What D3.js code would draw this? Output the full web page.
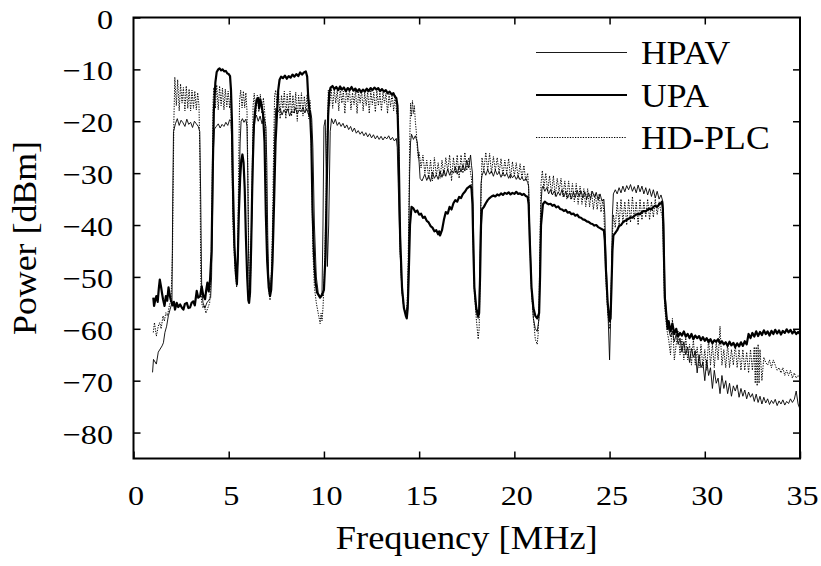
<!DOCTYPE html>
<html><head><meta charset="utf-8">
<script src="https://cdn.jsdelivr.net/npm/d3@7"></script>
<style>
body{margin:0;background:#fff}
svg{display:block}
</style>
</head><body>
<svg id="chart" width="821" height="566"></svg>
<script>
const xTicks=[0,5,10,15,20,25,30,35];
const yTicks=[0,-10,-20,-30,-40,-50,-60,-70,-80];
const xTitle="Frequency [MHz]";
const yTitle="Power [dBm]";
const seriesNames=["HPAV","UPA","HD-PLC"];

const hpav=[[1.0,-68.4],[1.05,-65.9],[1.2,-66.8],[1.3,-64.5],[1.4,-63.9],[1.5,-63.3],[1.57,-62.7],[1.65,-60.7],[1.74,-59.5],[1.83,-57.5],[1.92,-56.3],[2.02,-55],[2.06,-35],[2.1,-22],[2.2,-20.5],[2.3,-19.5],[2.4,-20.8],[2.5,-19.8],[2.6,-20.3],[2.7,-21],[2.8,-19.6],[2.9,-20.6],[3.0,-20.2],[3.1,-21.2],[3.2,-20],[3.3,-20.5],[3.4,-21],[3.48,-22],[3.53,-35],[3.58,-52],[3.65,-55],[3.75,-56],[3.85,-55],[3.95,-54.5],[4.05,-54],[4.1,-50],[4.15,-38],[4.19,-26],[4.25,-21.5],[4.35,-21],[4.45,-20.5],[4.55,-21.3],[4.65,-20.6],[4.75,-21],[4.85,-20.2],[4.95,-20.8],[5.05,-19.7],[5.12,-20],[5.17,-25],[5.23,-38],[5.33,-47],[5.43,-50],[5.48,-47],[5.53,-36],[5.6,-24],[5.65,-20],[5.72,-19.5],[5.8,-20.2],[5.9,-19.6],[5.96,-21],[6.0,-30],[6.04,-45],[6.08,-52],[6.14,-50],[6.22,-38],[6.3,-23],[6.38,-19.5],[6.45,-18.8],[6.55,-20],[6.65,-19],[6.75,-20.5],[6.85,-19.2],[6.95,-21],[7.0,-28],[7.05,-42],[7.1,-50],[7.18,-52.5],[7.28,-48],[7.35,-35],[7.42,-22],[7.47,-17.5],[7.6,-18.2],[7.7,-17.5],[7.8,-18.8],[7.9,-17.8],[8.0,-18.5],[8.1,-17.6],[8.2,-19],[8.3,-18],[8.4,-18.4],[8.5,-17.4],[8.6,-18.6],[8.7,-17.8],[8.8,-18.2],[8.9,-17.3],[9.0,-18.4],[9.1,-17.6],[9.2,-18.8],[9.3,-18],[9.36,-19.5],[9.42,-25],[9.5,-40],[9.6,-50],[9.7,-53],[9.8,-54],[9.9,-53],[9.95,-40],[10.0,-21],[10.07,-19.7],[10.12,-30],[10.18,-48],[10.25,-40],[10.33,-22],[10.4,-19.5],[10.5,-20.5],[10.6,-19.6],[10.7,-20.8],[10.8,-20.2],[10.9,-21],[11.0,-20.4],[11.1,-21.3],[11.2,-20.7],[11.3,-21.6],[11.4,-21],[11.5,-22],[11.6,-21.3],[11.7,-22.3],[11.8,-21.8],[11.9,-22.5],[12.0,-22],[12.1,-22.8],[12.2,-22.2],[12.3,-23],[12.4,-22.4],[12.5,-23.2],[12.6,-22.6],[12.7,-23.4],[12.8,-22.8],[12.9,-23.5],[13.0,-22.9],[13.1,-23.6],[13.2,-23],[13.3,-23.4],[13.4,-22.8],[13.5,-23.6],[13.6,-23.1],[13.7,-23.8],[13.8,-23.3],[13.85,-25],[13.9,-32],[14.0,-45],[14.1,-53],[14.2,-56],[14.3,-57],[14.4,-55],[14.45,-45],[14.5,-30],[14.55,-24],[14.6,-22.5],[14.7,-23.5],[14.8,-22.8],[14.9,-24],[15.0,-28],[15.05,-31],[15.15,-31.5],[15.3,-30.2],[15.4,-31.4],[15.5,-30.5],[15.6,-31.6],[15.7,-29.8],[15.8,-31],[15.9,-30.3],[16.0,-31.2],[16.1,-29.6],[16.2,-30.8],[16.3,-29.4],[16.4,-30.6],[16.5,-29.2],[16.6,-30.4],[16.7,-29.5],[16.8,-30],[16.9,-28.8],[17.0,-30.2],[17.1,-28.6],[17.2,-29.8],[17.3,-28.4],[17.4,-29.6],[17.5,-27.5],[17.6,-29],[17.7,-26.5],[17.75,-28.5],[17.8,-30],[17.85,-40],[17.9,-52],[18.0,-57],[18.1,-58],[18.15,-56],[18.2,-45],[18.25,-32],[18.3,-30.5],[18.4,-29.5],[18.5,-30.4],[18.6,-29.3],[18.7,-30.2],[18.8,-29.6],[18.9,-30.6],[19.0,-29.4],[19.1,-30.3],[19.2,-29.8],[19.3,-30.8],[19.4,-29.9],[19.5,-30.6],[19.6,-30],[19.7,-31],[19.8,-30.2],[19.9,-30.9],[20.0,-30.4],[20.1,-31.2],[20.2,-30.5],[20.3,-31.3],[20.4,-30.8],[20.5,-31.5],[20.6,-31],[20.7,-31.8],[20.75,-32.5],[20.8,-40],[20.9,-52],[21.0,-58],[21.1,-60],[21.2,-60.5],[21.3,-58],[21.35,-48],[21.4,-36],[21.45,-33],[21.5,-32.5],[21.6,-33.5],[21.7,-32.8],[21.8,-34],[21.9,-33.2],[22.0,-34.2],[22.1,-33.4],[22.2,-34.5],[22.3,-33.6],[22.4,-34.3],[22.5,-33.2],[22.6,-34.6],[22.7,-33.5],[22.8,-34.8],[22.9,-33.8],[23.0,-35],[23.1,-33.6],[23.2,-34.7],[23.3,-33.3],[23.4,-34.5],[23.5,-33.4],[23.6,-34.8],[23.7,-33.6],[23.8,-35],[23.9,-33.8],[24.0,-34.9],[24.1,-33.5],[24.2,-34.6],[24.3,-33.7],[24.4,-35.2],[24.5,-34],[24.6,-35.4],[24.7,-35],[24.75,-38],[24.8,-45],[24.9,-55],[25.0,-66],[25.05,-59],[25.1,-50],[25.15,-38],[25.2,-34],[25.3,-33.2],[25.4,-34],[25.5,-32.8],[25.6,-33.8],[25.7,-32.5],[25.8,-33.6],[25.9,-32.4],[26.0,-33.2],[26.1,-32.2],[26.2,-33.5],[26.3,-32.6],[26.4,-33.8],[26.5,-32.3],[26.6,-33.6],[26.7,-32.5],[26.8,-34],[26.9,-32.8],[27.0,-34.2],[27.1,-33],[27.2,-34.5],[27.3,-33.2],[27.4,-34.8],[27.5,-33.5],[27.6,-35],[27.7,-34.2],[27.8,-35.5],[27.85,-40],[27.9,-52],[28.0,-58],[28.1,-60],[28.2,-61.5],[28.3,-60.5],[28.4,-62.5],[28.5,-61],[28.6,-63],[28.7,-61.8],[28.8,-64.5],[28.9,-62.5],[29.0,-65],[29.1,-63.5],[29.2,-66.5],[29.3,-63.8],[29.4,-65.5],[29.5,-64.2],[29.6,-68.5],[29.7,-65],[29.8,-67.5],[29.9,-66.5],[30.0,-70],[30.1,-66],[30.2,-69],[30.3,-67.5],[30.4,-71.5],[30.5,-68],[30.6,-70.5],[30.7,-69.5],[30.8,-72.5],[30.9,-69],[31.0,-71.5],[31.1,-70],[31.2,-72.5],[31.3,-70.5],[31.4,-73],[31.5,-71],[31.6,-72],[31.7,-70.8],[31.8,-73.2],[31.9,-71.5],[32.0,-73],[32.1,-71.8],[32.2,-73.5],[32.3,-72.2],[32.4,-73.2],[32.5,-72.5],[32.6,-74],[32.7,-72.6],[32.8,-74.2],[32.9,-73],[33.0,-74.5],[33.1,-73.2],[33.2,-74.3],[33.3,-73.5],[33.4,-74.6],[33.5,-73.8],[33.6,-74.4],[33.7,-73.6],[33.8,-74.8],[33.9,-73.9],[34.0,-74.5],[34.1,-73.7],[34.2,-74.7],[34.3,-74],[34.4,-74.4],[34.5,-73.5],[34.6,-74.2],[34.7,-73.6],[34.8,-72],[34.9,-74.5],[35.0,-75.5]];

const upa=[[1.04,-54],[1.08,-55.6],[1.14,-54.5],[1.2,-53.7],[1.27,-54.8],[1.33,-52.2],[1.38,-50.5],[1.45,-52],[1.5,-53.2],[1.55,-54.3],[1.63,-55.6],[1.7,-53.7],[1.77,-54.6],[1.84,-52],[1.9,-53.5],[1.95,-54.3],[2.05,-55.5],[2.12,-54.8],[2.18,-56.3],[2.27,-55],[2.35,-55.8],[2.45,-55.3],[2.55,-56],[2.62,-56.3],[2.7,-55.2],[2.8,-55],[2.88,-56],[2.97,-55.9],[3.05,-55],[3.14,-54.7],[3.22,-55.5],[3.32,-52.7],[3.4,-54],[3.5,-53.7],[3.58,-51.8],[3.66,-53.5],[3.76,-54.3],[3.82,-52.5],[3.88,-51.1],[3.95,-52.8],[4.02,-50.5],[4.1,-45],[4.16,-30],[4.22,-18],[4.3,-12.5],[4.37,-10.5],[4.45,-10],[4.52,-9.8],[4.6,-10.2],[4.68,-10],[4.76,-10.4],[4.85,-10.3],[4.93,-10.8],[5.0,-10.9],[5.07,-11.3],[5.12,-14],[5.17,-20],[5.22,-32],[5.3,-44],[5.38,-49.5],[5.43,-51.4],[5.48,-46],[5.53,-38],[5.6,-31],[5.66,-27.5],[5.72,-26.4],[5.78,-28],[5.84,-33],[5.9,-42],[5.97,-50],[6.03,-54.5],[6.07,-55],[6.12,-53],[6.18,-44],[6.25,-30],[6.32,-21],[6.4,-17.5],[6.47,-15.8],[6.55,-15.5],[6.6,-17.5],[6.66,-15.8],[6.72,-16.8],[6.8,-18.5],[6.88,-24],[6.95,-38],[7.02,-47],[7.1,-52],[7.17,-53.7],[7.23,-52.5],[7.3,-47],[7.38,-36],[7.46,-24],[7.52,-19.7],[7.6,-14],[7.67,-12],[7.75,-11.4],[7.85,-11.7],[7.95,-11.2],[8.05,-11.8],[8.15,-11.3],[8.25,-11.6],[8.35,-11],[8.45,-11.4],[8.55,-10.9],[8.65,-11.3],[8.75,-10.6],[8.85,-11],[8.95,-10.6],[9.05,-10.4],[9.12,-11.4],[9.17,-15],[9.22,-17.2],[9.28,-19.1],[9.34,-24],[9.4,-37],[9.48,-46],[9.56,-51],[9.64,-53],[9.72,-53.5],[9.8,-54],[9.9,-53.5],[10.0,-52.5],[10.08,-46],[10.15,-32],[10.22,-19],[10.28,-14.5],[10.35,-13.5],[10.45,-13.2],[10.55,-13.8],[10.65,-13.4],[10.75,-14],[10.85,-13.3],[10.95,-13.9],[11.05,-13.5],[11.15,-14.2],[11.25,-13.6],[11.35,-14],[11.45,-13.4],[11.55,-14.1],[11.65,-13.7],[11.75,-14.3],[11.85,-13.8],[11.95,-14.4],[12.05,-13.9],[12.15,-14.3],[12.25,-13.7],[12.35,-14.2],[12.45,-13.6],[12.55,-14],[12.65,-13.5],[12.75,-13.9],[12.85,-13.6],[12.95,-14.2],[13.05,-13.8],[13.15,-14.3],[13.25,-14],[13.35,-14.6],[13.45,-14.3],[13.55,-14.8],[13.65,-14.6],[13.72,-15.2],[13.8,-15.5],[13.86,-17],[13.92,-25],[14.0,-42],[14.1,-52],[14.2,-56],[14.3,-57.5],[14.35,-58],[14.4,-56],[14.45,-50],[14.52,-40],[14.6,-36.5],[14.7,-36.8],[14.8,-37.5],[14.9,-37.2],[15.0,-38],[15.1,-37.8],[15.2,-38.6],[15.3,-38.4],[15.4,-39.2],[15.5,-39.5],[15.6,-40.2],[15.7,-40.5],[15.8,-41.2],[15.9,-41],[16.0,-41.8],[16.05,-41.2],[16.1,-42],[16.2,-41],[16.3,-39],[16.4,-37.5],[16.5,-37.8],[16.6,-36.5],[16.7,-37],[16.8,-35.8],[16.9,-35.2],[17.0,-35.5],[17.1,-34.6],[17.2,-34.8],[17.3,-34],[17.4,-33.6],[17.5,-33],[17.6,-32.7],[17.7,-32.4],[17.75,-33],[17.8,-36],[17.85,-45],[17.9,-52],[18.0,-56],[18.1,-57.5],[18.15,-57],[18.2,-50],[18.25,-40],[18.3,-37],[18.4,-36.5],[18.5,-35.8],[18.6,-35.2],[18.7,-34.8],[18.8,-34.5],[18.9,-34.3],[19.0,-34.5],[19.1,-34.1],[19.2,-34.3],[19.3,-33.9],[19.4,-34.2],[19.5,-33.8],[19.6,-34],[19.7,-33.7],[19.8,-34.1],[19.9,-33.8],[20.0,-34],[20.1,-33.6],[20.2,-34],[20.3,-33.9],[20.4,-34.2],[20.5,-34],[20.6,-34.4],[20.7,-34.6],[20.75,-36],[20.8,-42],[20.9,-52],[21.0,-56],[21.1,-57.5],[21.2,-58],[21.3,-57],[21.35,-50],[21.4,-40],[21.5,-36],[21.6,-35.5],[21.7,-35.8],[21.8,-36],[21.9,-35.9],[22.0,-36.3],[22.1,-36.1],[22.2,-36.6],[22.3,-36.4],[22.4,-36.9],[22.5,-37],[22.6,-37.3],[22.7,-37.1],[22.8,-37.6],[22.9,-37.5],[23.0,-37.9],[23.1,-37.8],[23.2,-38.2],[23.3,-38],[23.4,-38.5],[23.5,-38.6],[23.6,-38.9],[23.7,-39],[23.8,-39.3],[23.9,-39.4],[24.0,-39.7],[24.1,-39.8],[24.2,-40.1],[24.3,-40],[24.4,-40.4],[24.5,-40.6],[24.6,-40.8],[24.7,-41],[24.75,-43],[24.8,-48],[24.9,-55],[25.0,-58.5],[25.05,-58],[25.1,-52],[25.15,-45],[25.2,-42],[25.3,-41.5],[25.4,-41],[25.5,-40.2],[25.6,-40],[25.7,-39.5],[25.8,-39.2],[25.9,-39],[26.0,-38.8],[26.1,-38.5],[26.2,-38.6],[26.3,-38.2],[26.4,-38],[26.5,-37.8],[26.6,-37.9],[26.7,-37.5],[26.8,-37.3],[26.9,-37.4],[27.0,-37],[27.1,-36.8],[27.2,-37],[27.3,-36.5],[27.4,-36.3],[27.5,-36.5],[27.6,-36],[27.7,-35.8],[27.75,-35.5],[27.8,-37],[27.85,-45],[27.9,-54],[28.0,-58],[28.05,-60],[28.1,-58.5],[28.2,-60.5],[28.3,-59],[28.4,-61],[28.5,-60],[28.6,-61.5],[28.7,-60.8],[28.8,-61.3],[28.9,-60.5],[29.0,-61.5],[29.1,-61],[29.2,-61.8],[29.3,-61],[29.4,-62],[29.5,-61.3],[29.6,-61.8],[29.7,-61.4],[29.8,-62.2],[29.9,-61.6],[30.0,-62.3],[30.1,-61.8],[30.2,-62.6],[30.3,-62],[30.4,-62.8],[30.5,-62.2],[30.6,-62.5],[30.7,-62],[30.8,-62.8],[30.9,-62.4],[31.0,-63],[31.1,-62.6],[31.2,-63.3],[31.3,-62.5],[31.4,-63.2],[31.5,-62.7],[31.6,-63.5],[31.7,-62.8],[31.8,-63.4],[31.9,-62.6],[32.0,-63.3],[32.1,-62.4],[32.2,-63],[32.3,-61],[32.4,-61.8],[32.5,-60.8],[32.6,-61.5],[32.7,-60.5],[32.8,-61.4],[32.9,-60.6],[33.0,-61.2],[33.1,-60.3],[33.2,-61],[33.3,-60.5],[33.4,-61.3],[33.5,-60.4],[33.6,-61],[33.7,-60.2],[33.8,-60.9],[33.9,-60.3],[34.0,-61.1],[34.1,-60.4],[34.2,-60.8],[34.3,-60.1],[34.4,-60.7],[34.5,-60.2],[34.6,-60.9],[34.7,-60.4],[34.8,-61],[34.9,-60.6],[35.0,-61]];

const hdplc=[[1.04,-60.7],[1.1,-58.8],[1.2,-61.4],[1.3,-59.5],[1.38,-58.8],[1.45,-60],[1.55,-57.5],[1.62,-58.5],[1.7,-56.9],[1.78,-57.5],[1.88,-55.6],[1.97,-54.3],[2.05,-45],[2.12,-20],[2.17,-11.5],[2.25,-17],[2.32,-12],[2.4,-18],[2.47,-12.8],[2.55,-16.5],[2.62,-13.5],[2.7,-18],[2.77,-13.2],[2.85,-17.5],[2.92,-13.8],[3.0,-18],[3.07,-14],[3.15,-17.5],[3.22,-14.2],[3.3,-17.8],[3.37,-14.5],[3.44,-17],[3.49,-28],[3.53,-50],[3.58,-55],[3.65,-56],[3.72,-55.5],[3.8,-57],[3.9,-56],[4.0,-55],[4.08,-48],[4.14,-30],[4.18,-16],[4.22,-13.5],[4.3,-17.5],[4.37,-13],[4.45,-17.8],[4.52,-13.2],[4.6,-17],[4.67,-13.6],[4.75,-17.8],[4.82,-13.8],[4.9,-17.2],[4.97,-14.2],[5.05,-17.5],[5.1,-14.8],[5.16,-25],[5.22,-40],[5.32,-48],[5.42,-52],[5.47,-46],[5.52,-30],[5.57,-16],[5.63,-14],[5.7,-17.4],[5.77,-14.2],[5.84,-17.4],[5.9,-14.5],[5.96,-18],[6.0,-28],[6.05,-45],[6.1,-54],[6.15,-50],[6.22,-35],[6.28,-17],[6.34,-14.6],[6.42,-18.5],[6.5,-15],[6.58,-18.2],[6.66,-14.8],[6.74,-18.5],[6.82,-15.5],[6.9,-18.7],[6.95,-22],[7.0,-38],[7.07,-50],[7.12,-53],[7.17,-54.5],[7.22,-52],[7.3,-40],[7.36,-25],[7.41,-15],[7.47,-14],[7.55,-18],[7.62,-14.5],[7.7,-19.5],[7.77,-15],[7.85,-17.5],[7.92,-14.2],[8.0,-19.5],[8.07,-14.8],[8.15,-18],[8.22,-14.2],[8.3,-19],[8.37,-15],[8.45,-18.5],[8.52,-14.4],[8.6,-20],[8.67,-15],[8.75,-18],[8.82,-14.5],[8.9,-19],[8.97,-15.2],[9.05,-18],[9.12,-14.8],[9.2,-19.5],[9.27,-16],[9.32,-20.5],[9.36,-30],[9.42,-45],[9.5,-52],[9.6,-55],[9.7,-57],[9.8,-59],[9.85,-57],[9.9,-58.5],[9.95,-56],[10.02,-50],[10.1,-38],[10.18,-22],[10.23,-14],[10.3,-17],[10.38,-13.5],[10.46,-17.5],[10.54,-13.8],[10.62,-16.5],[10.7,-14],[10.78,-18],[10.86,-13.6],[10.94,-16.5],[11.02,-14.2],[11.1,-18.5],[11.18,-14],[11.26,-16.2],[11.34,-13.8],[11.42,-17.8],[11.5,-14.5],[11.58,-16.8],[11.66,-14],[11.74,-18.5],[11.82,-14.4],[11.9,-16.5],[11.98,-14],[12.06,-18],[12.14,-14.5],[12.22,-17],[12.3,-14.2],[12.38,-18.5],[12.46,-14],[12.54,-16.8],[12.62,-14.4],[12.7,-18.2],[12.78,-14.1],[12.86,-17],[12.94,-14.5],[13.02,-18],[13.1,-14.4],[13.18,-16.5],[13.26,-14.6],[13.34,-18.5],[13.42,-14.8],[13.5,-17.2],[13.58,-14.6],[13.66,-18],[13.74,-15],[13.82,-18.5],[13.87,-17],[13.91,-20],[13.95,-30],[14.0,-45],[14.1,-53],[14.2,-56],[14.3,-57],[14.35,-56.5],[14.4,-52],[14.45,-40],[14.5,-25],[14.55,-16.5],[14.6,-19],[14.65,-16],[14.7,-18.5],[14.75,-17],[14.8,-20],[14.85,-22],[14.9,-25],[14.95,-27],[15.0,-26],[15.1,-29],[15.2,-26.5],[15.3,-30],[15.4,-27.5],[15.5,-31],[15.6,-27.5],[15.7,-31.5],[15.8,-27],[15.9,-30.5],[16.0,-28],[16.1,-31],[16.2,-27.5],[16.3,-30.5],[16.4,-27],[16.5,-29.5],[16.6,-26.5],[16.7,-31.5],[16.8,-27],[16.9,-30],[17.0,-26.5],[17.1,-31],[17.2,-26.5],[17.3,-30],[17.4,-26],[17.5,-29.5],[17.6,-27],[17.7,-30],[17.75,-31],[17.8,-35],[17.85,-45],[17.9,-53],[18.0,-58],[18.1,-62],[18.15,-60],[18.2,-50],[18.25,-35],[18.3,-27],[18.4,-29.5],[18.5,-26],[18.6,-29.5],[18.7,-26.2],[18.8,-30],[18.9,-26.8],[19.0,-29.5],[19.1,-27],[19.2,-30],[19.3,-27.2],[19.4,-30.5],[19.5,-27.5],[19.6,-30],[19.7,-27.2],[19.8,-31],[19.9,-27.8],[20.0,-30.5],[20.1,-28],[20.2,-31],[20.3,-28.2],[20.4,-31],[20.5,-28.5],[20.6,-31.5],[20.7,-30],[20.75,-33],[20.8,-42],[20.9,-53],[21.0,-58],[21.1,-62],[21.2,-63],[21.25,-61],[21.3,-55],[21.35,-42],[21.4,-32],[21.47,-29.5],[21.55,-33],[21.65,-30],[21.75,-33.5],[21.85,-30.5],[21.95,-34],[22.05,-30.5],[22.15,-34.5],[22.25,-31],[22.35,-33.5],[22.45,-31],[22.55,-34.5],[22.65,-31.5],[22.75,-35],[22.85,-31.5],[22.95,-35],[23.05,-32],[23.15,-35.5],[23.25,-32],[23.35,-36],[23.45,-32.5],[23.55,-36],[23.65,-33],[23.75,-36.5],[23.85,-33],[23.95,-36.5],[24.05,-33.5],[24.15,-37],[24.25,-34],[24.35,-37],[24.45,-34],[24.55,-37.5],[24.65,-35],[24.7,-38],[24.75,-42],[24.8,-50],[24.9,-57],[25.0,-60],[25.05,-58],[25.1,-50],[25.15,-42],[25.2,-38],[25.3,-40.5],[25.4,-35.5],[25.5,-40],[25.6,-35],[25.7,-39.5],[25.8,-35.5],[25.9,-40],[26.0,-35],[26.1,-39.5],[26.2,-34.5],[26.3,-39],[26.4,-35.5],[26.5,-40],[26.6,-35],[26.7,-39],[26.8,-35.5],[26.9,-38.5],[27.0,-35],[27.1,-39],[27.2,-35.5],[27.3,-38.5],[27.4,-35],[27.5,-38],[27.6,-35.5],[27.7,-37.5],[27.75,-38],[27.8,-40],[27.85,-50],[27.9,-56],[28.0,-60],[28.1,-62],[28.2,-65],[28.3,-58],[28.4,-66],[28.5,-63],[28.6,-60.5],[28.7,-65],[28.8,-62],[28.9,-66],[29.0,-61.5],[29.1,-66],[29.2,-63],[29.3,-67],[29.4,-62],[29.5,-67],[29.6,-63.5],[29.7,-67.5],[29.8,-63],[29.9,-67.5],[30.0,-64],[30.1,-68],[30.2,-62],[30.3,-67],[30.4,-63],[30.5,-67.5],[30.6,-62.5],[30.7,-66],[30.8,-59.5],[30.9,-67],[31.0,-64],[31.1,-67.5],[31.2,-63],[31.3,-67.5],[31.4,-64],[31.5,-67],[31.6,-63],[31.7,-67.5],[31.8,-64],[31.9,-68],[32.0,-64],[32.1,-68],[32.2,-64.5],[32.3,-68.5],[32.4,-64],[32.5,-68],[32.6,-63.5],[32.65,-70.5],[32.7,-63.5],[32.75,-71],[32.8,-63],[32.85,-70.5],[32.9,-64],[33.0,-70],[33.1,-65.5],[33.2,-66.5],[33.3,-67],[33.4,-66],[33.5,-67.5],[33.6,-66],[33.7,-67],[33.8,-68],[33.9,-67.5],[34.0,-68.5],[34.1,-67.5],[34.2,-69],[34.3,-68],[34.4,-69],[34.5,-68],[34.6,-69.5],[34.7,-68.5],[34.8,-69.5],[34.9,-69],[35.0,-69.5]];

const seriesData=[hpav,upa,hdplc];
const seriesStyles=[{w:0.9,dash:null},{w:2.2,dash:null},{w:1,dash:"1.3,1.3"}];

const svg=d3.select("#chart");
const L=133.5,R=800,T=17.5,B=458.5;
const x=d3.scaleLinear().domain([0,35]).range([L,R]);
const y=d3.scaleLinear().domain([-85,0]).range([B,T]);
const fmt=d=>d<0?"\u2212"+Math.abs(d):String(d);
const FONT='"Liberation Serif"';
const SX=1.15;

svg.append("defs").append("clipPath").attr("id","clip")
  .append("rect").attr("x",L).attr("y",T).attr("width",R-L).attr("height",B-T);

svg.append("g").attr("transform",`translate(0,${B})`)
  .call(d3.axisBottom(x).tickValues(xTicks).tickSizeInner(-7).tickSizeOuter(0).tickFormat(fmt))
  .call(g=>{g.select(".domain").remove();
    g.selectAll(".tick line").attr("stroke","#000").attr("stroke-width",1.5);
    g.selectAll(".tick text").attr("x",2/SX).attr("y",46.5).attr("dy",0).attr("fill","#000")
     .attr("transform",`scale(${SX},1)`)
     .style("font-family",FONT).style("font-size","28px");});
svg.append("g").attr("transform",`translate(0,${T})`)
  .call(d3.axisTop(x).tickValues(xTicks.slice(1,-1)).tickSizeInner(-7).tickSizeOuter(0).tickFormat(""))
  .call(g=>{g.select(".domain").remove();g.selectAll(".tick line").attr("stroke","#000").attr("stroke-width",1.5);});
svg.append("g").attr("transform",`translate(${L},0)`)
  .call(d3.axisLeft(y).tickValues(yTicks).tickSizeInner(-7).tickSizeOuter(0).tickFormat(fmt))
  .call(g=>{g.select(".domain").remove();
    g.selectAll(".tick line").attr("stroke","#000").attr("stroke-width",1.5);
    g.selectAll(".tick text").attr("x",-20.5/SX).attr("dy",0).attr("y",10.5).attr("fill","#000")
     .attr("transform",`scale(${SX},1)`)
     .style("font-family",FONT).style("font-size","28px");});
svg.append("g").attr("transform",`translate(${R},0)`)
  .call(d3.axisRight(y).tickValues(yTicks.slice(1)).tickSizeInner(-7).tickSizeOuter(0).tickFormat(""))
  .call(g=>{g.select(".domain").remove();g.selectAll(".tick line").attr("stroke","#000").attr("stroke-width",1.5);});

const line=d3.line().x(d=>x(d[0])).y(d=>y(d[1]));
const plot=svg.append("g").attr("clip-path","url(#clip)");
seriesData.forEach((s,i)=>{
  plot.append("path").datum(s).attr("d",line).attr("fill","none")
    .attr("stroke","#000").attr("stroke-width",seriesStyles[i].w)
    .attr("stroke-linejoin","round")
    .attr("stroke-dasharray",seriesStyles[i].dash);
});

svg.append("rect").attr("x",L).attr("y",T).attr("width",R-L).attr("height",B-T)
  .attr("fill","none").attr("stroke","#000").attr("stroke-width",2);

const legY=[52.5,95,137.5];
const LSX=1.08;
const leg=svg.append("g");
seriesNames.forEach((n,i)=>{
  leg.append("line").attr("x1",536).attr("x2",627).attr("y1",legY[i]).attr("y2",legY[i])
    .attr("stroke","#000").attr("stroke-width",seriesStyles[i].w).attr("stroke-dasharray",seriesStyles[i].dash);
  leg.append("text").attr("transform",`translate(641,${legY[i]+11.5}) scale(${LSX},1)`)
    .attr("fill","#000").style("font-family",FONT).style("font-size","33px").text(n);
});

svg.append("text").attr("x",(L+R)/2).attr("y",549).attr("text-anchor","middle")
  .attr("textLength",262).attr("lengthAdjust","spacingAndGlyphs")
  .attr("fill","#000").style("font-family",FONT).style("font-size","33px").text(xTitle);
svg.append("text").attr("transform",`translate(36,${(T+B)/2}) rotate(-90)`).attr("text-anchor","middle")
  .attr("textLength",194).attr("lengthAdjust","spacingAndGlyphs")
  .attr("fill","#000").style("font-family",FONT).style("font-size","33px").text(yTitle);
</script>
</body></html>
